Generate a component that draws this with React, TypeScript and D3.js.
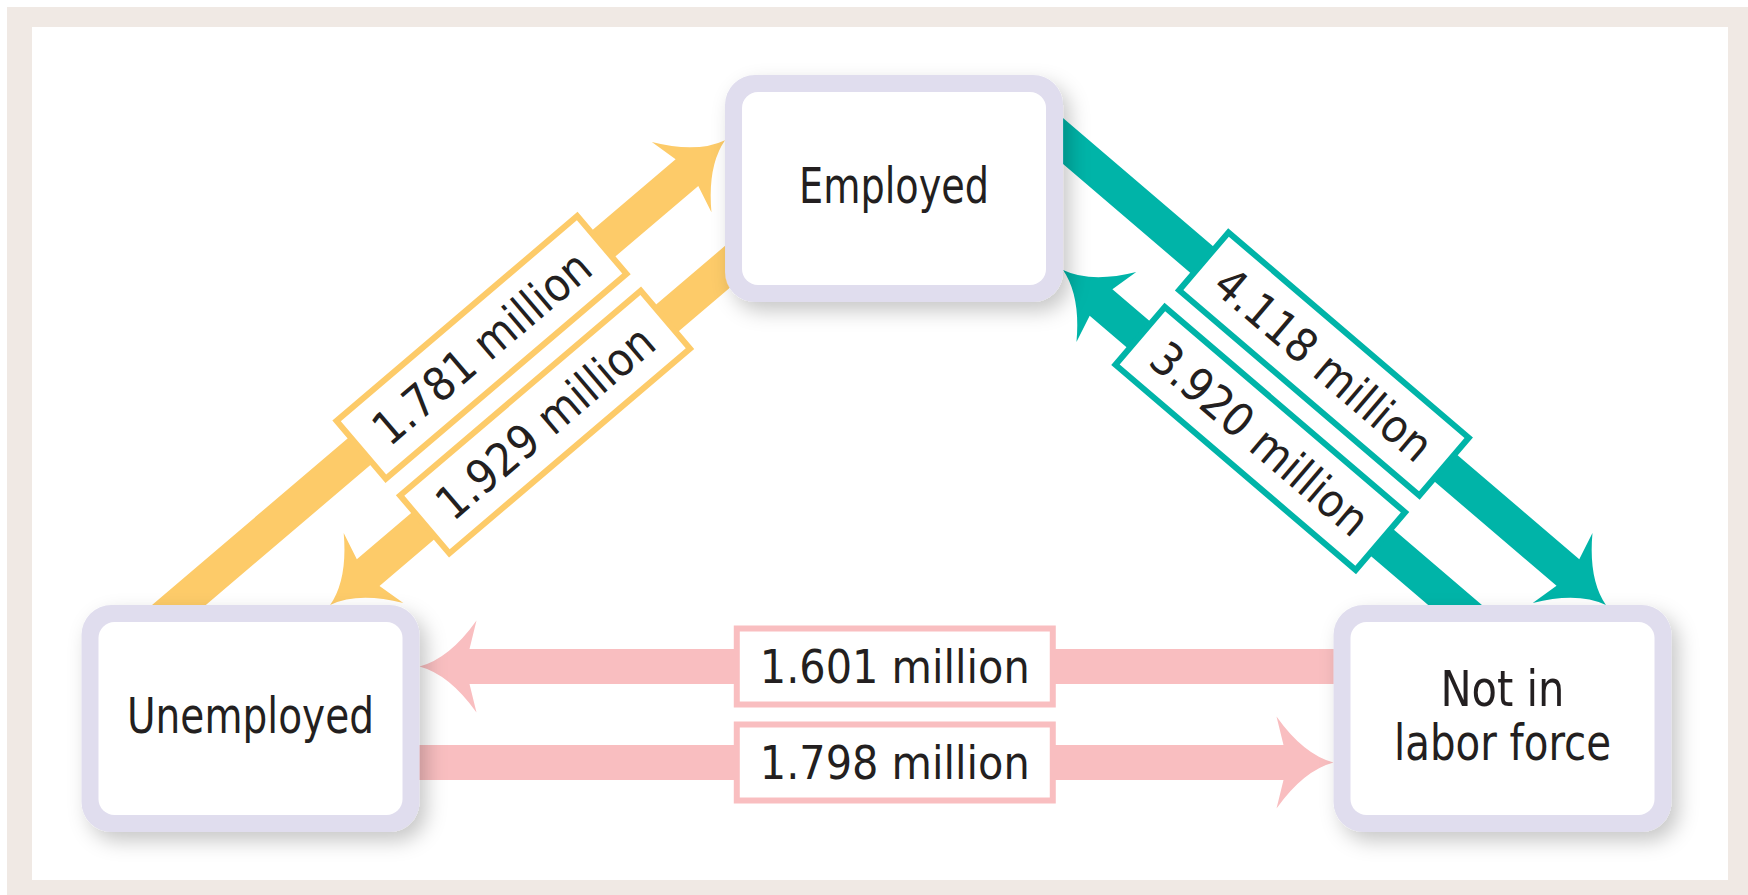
import React from 'react';
import * as d3 from 'd3';

// states (boxes) and how their names wrap
const nodeNames = ['Employed', 'Unemployed', 'Not in labor force'];
const nodeLines = [['Employed'], ['Unemployed'], ['Not in', 'labor force']];

// monthly flows between states, millions of workers
const flowFrom = ['Unemployed', 'Employed', 'Employed', 'Not in labor force', 'Not in labor force', 'Unemployed'];
const flowTo = ['Employed', 'Unemployed', 'Not in labor force', 'Employed', 'Unemployed', 'Not in labor force'];
const flowMillions = [1.781, 1.929, 4.118, 3.92, 1.601, 1.798];

// ---- layout / style (not data) ----
const W = 1748;
const H = 895;
const NODE_W = 338;
const NODE_H = 227;
const SHAFT = 35;
const FONT = '"Liberation Sans Narrow", "DejaVu Sans Condensed", "DejaVu Sans", sans-serif';
const TEXT = '#231f20';
// the original face is a narrow one, so squeeze text to its measured widths
const lineWidth = { Employed: 190, Unemployed: 247, 'Not in': 124, 'labor force': 217 };

const gridPos = {
  Employed: [0.514, 0],
  Unemployed: [0, 1],
  'Not in labor force': [1, 1],
};
const xScale = d3.scaleLinear().domain([0, 1]).range([250.5, 1502.5]);
const yScale = d3.scaleLinear().domain([0, 1]).range([188.5, 718.5]);

// each pair of states shares a colour and a centre line between two box edges
const pairs = [
  { a: 'Unemployed', aSide: 'top', aOff: 4, b: 'Employed', bSide: 'left', bOff: 16, labelT: 0.55, color: '#fdcb69' },
  { a: 'Employed', aSide: 'right', aOff: 17, b: 'Not in labor force', bSide: 'top', bOff: 28, labelT: 0.49, color: '#00b4a8' },
  { a: 'Unemployed', aSide: 'right', aOff: -4, b: 'Not in labor force', bSide: 'left', bOff: -4, labelT: 0.52, color: '#f9bec0' },
];
// which side of the centre line each flow runs on
const flowLane = [-49, 49, -49, 49, -48, 48];

function nodeBox(name) {
  const [gx, gy] = gridPos[name];
  const cx = xScale(gx);
  const cy = yScale(gy);
  return { cx, cy, x0: cx - NODE_W / 2, x1: cx + NODE_W / 2, y0: cy - NODE_H / 2, y1: cy + NODE_H / 2 };
}

function anchor(name, side, off) {
  const b = nodeBox(name);
  if (side === 'top') return [b.cx + off, b.y0];
  if (side === 'left') return [b.x0, b.cy + off];
  return [b.x1, b.cy + off];
}

// t-range where p + t*d is inside box
function slab(p, d, b) {
  let t0 = -Infinity;
  let t1 = Infinity;
  [[p[0], d[0], b.x0, b.x1], [p[1], d[1], b.y0, b.y1]].forEach(([o, v, lo, hi]) => {
    if (Math.abs(v) < 1e-9) return;
    const a = (lo - o) / v;
    const c = (hi - o) / v;
    t0 = Math.max(t0, Math.min(a, c));
    t1 = Math.min(t1, Math.max(a, c));
  });
  return [t0, t1];
}

function buildFlows() {
  const fmt = d3.format('.3f');
  return flowMillions.map((v, i) => {
    const from = flowFrom[i];
    const to = flowTo[i];
    const pair = pairs.find((p) => (p.a === from && p.b === to) || (p.a === to && p.b === from));
    const pa = anchor(pair.a, pair.aSide, pair.aOff);
    const pb = anchor(pair.b, pair.bSide, pair.bOff);
    const len = Math.hypot(pb[0] - pa[0], pb[1] - pa[1]);
    const d = [(pb[0] - pa[0]) / len, (pb[1] - pa[1]) / len];
    const n = [-d[1], d[0]];
    const lane = flowLane[i];
    const base = [pa[0] + lane * n[0], pa[1] + lane * n[1]];
    const [, tExitA] = slab(base, d, nodeBox(pair.a));
    const [tEnterB] = slab(base, d, nodeBox(pair.b));
    const forward = pair.a === from;
    const tTail = forward ? tExitA - 25 : tEnterB + 25;
    const tTip = forward ? tEnterB : tExitA;
    const at = (t) => [base[0] + t * d[0], base[1] + t * d[1]];
    const tail = at(tTail);
    const tip = at(tTip);
    const u = forward ? d : [-d[0], -d[1]];
    const m = [-u[1], u[0]];
    const pt = (a, b) => [tip[0] + a * u[0] + b * m[0], tip[1] + a * u[1] + b * m[1]];
    const s = SHAFT / 2;
    const path = d3.path();
    path.moveTo(...tip);
    path.quadraticCurveTo(...pt(-30, 8), ...pt(-57, 46));
    path.lineTo(...pt(-50, s));
    path.lineTo(tail[0] + s * m[0], tail[1] + s * m[1]);
    path.lineTo(tail[0] - s * m[0], tail[1] - s * m[1]);
    path.lineTo(...pt(-50, -s));
    path.lineTo(...pt(-57, -46));
    path.quadraticCurveTo(...pt(-30, -8), ...tip);
    path.closePath();
    const mid = [pa[0] + pair.labelT * (pb[0] - pa[0]) + lane * n[0], pa[1] + pair.labelT * (pb[1] - pa[1]) + lane * n[1]];
    const angle = (Math.atan2(d[1], d[0]) * 180) / Math.PI;
    return { key: i, color: pair.color, d: path.toString(), mid, angle, label: `${fmt(v)} million` };
  });
}

export default function App() {
  const flows = buildFlows();
  const BOX_W = 322;
  const BOX_H = 82;
  return (
    <svg width={W} height={H} style={{ position: 'absolute', left: 0, top: 0, display: 'block' }}>
      <defs>
        <filter id='shadow' x='-20%' y='-20%' width='150%' height='160%'>
          <feDropShadow dx='7' dy='9' stdDeviation='10' floodColor='#000' floodOpacity='0.22' />
        </filter>
      </defs>
      <rect x={0} y={0} width={W} height={H} fill='#fff' />
      <rect x={7} y={7} width={W - 7} height={H - 7} fill='#f0e9e4' />
      <rect x={32} y={27} width={1696} height={853} fill='#fff' />
      {/* arrows */}
      {flows.map((f) => (
        <path key={`a${f.key}`} d={f.d} fill={f.color} />
      ))}
      {/* value labels */}
      {flows.map((f) => (
        <g key={`l${f.key}`} transform={`translate(${f.mid[0]},${f.mid[1]}) rotate(${f.angle})`}>
          <rect x={-BOX_W / 2 + 3} y={-BOX_H / 2 + 3} width={BOX_W - 6} height={BOX_H - 6} fill='#fff' stroke={f.color} strokeWidth={6} />
          <text
            textAnchor='middle'
            dy='0.36em'
            fontFamily={FONT}
            fontSize={46}
            fill={TEXT}
            textLength={270}
            lengthAdjust='spacingAndGlyphs'
          >
            {f.label}
          </text>
        </g>
      ))}
      {/* state boxes */}
      {nodeNames.map((name, i) => {
        const b = nodeBox(name);
        const lines = nodeLines[i];
        const lh = 54;
        return (
          <g key={name}>
            <rect x={b.x0} y={b.y0} width={NODE_W} height={NODE_H} rx={30} fill='#e0ddee' filter='url(#shadow)' />
            <rect x={b.x0 + 17} y={b.y0 + 17} width={NODE_W - 34} height={NODE_H - 34} rx={16} fill='#fff' />
            {lines.map((ln, j) => (
              <text
                key={ln}
                x={b.cx}
                y={b.cy - 4 + (j - (lines.length - 1) / 2) * lh}
                dy='0.36em'
                textAnchor='middle'
                fontFamily={FONT}
                fontSize={50}
                fill={TEXT}
                textLength={lineWidth[ln]}
                lengthAdjust='spacingAndGlyphs'
              >
                {ln}
              </text>
            ))}
          </g>
        );
      })}
    </svg>
  );
}
